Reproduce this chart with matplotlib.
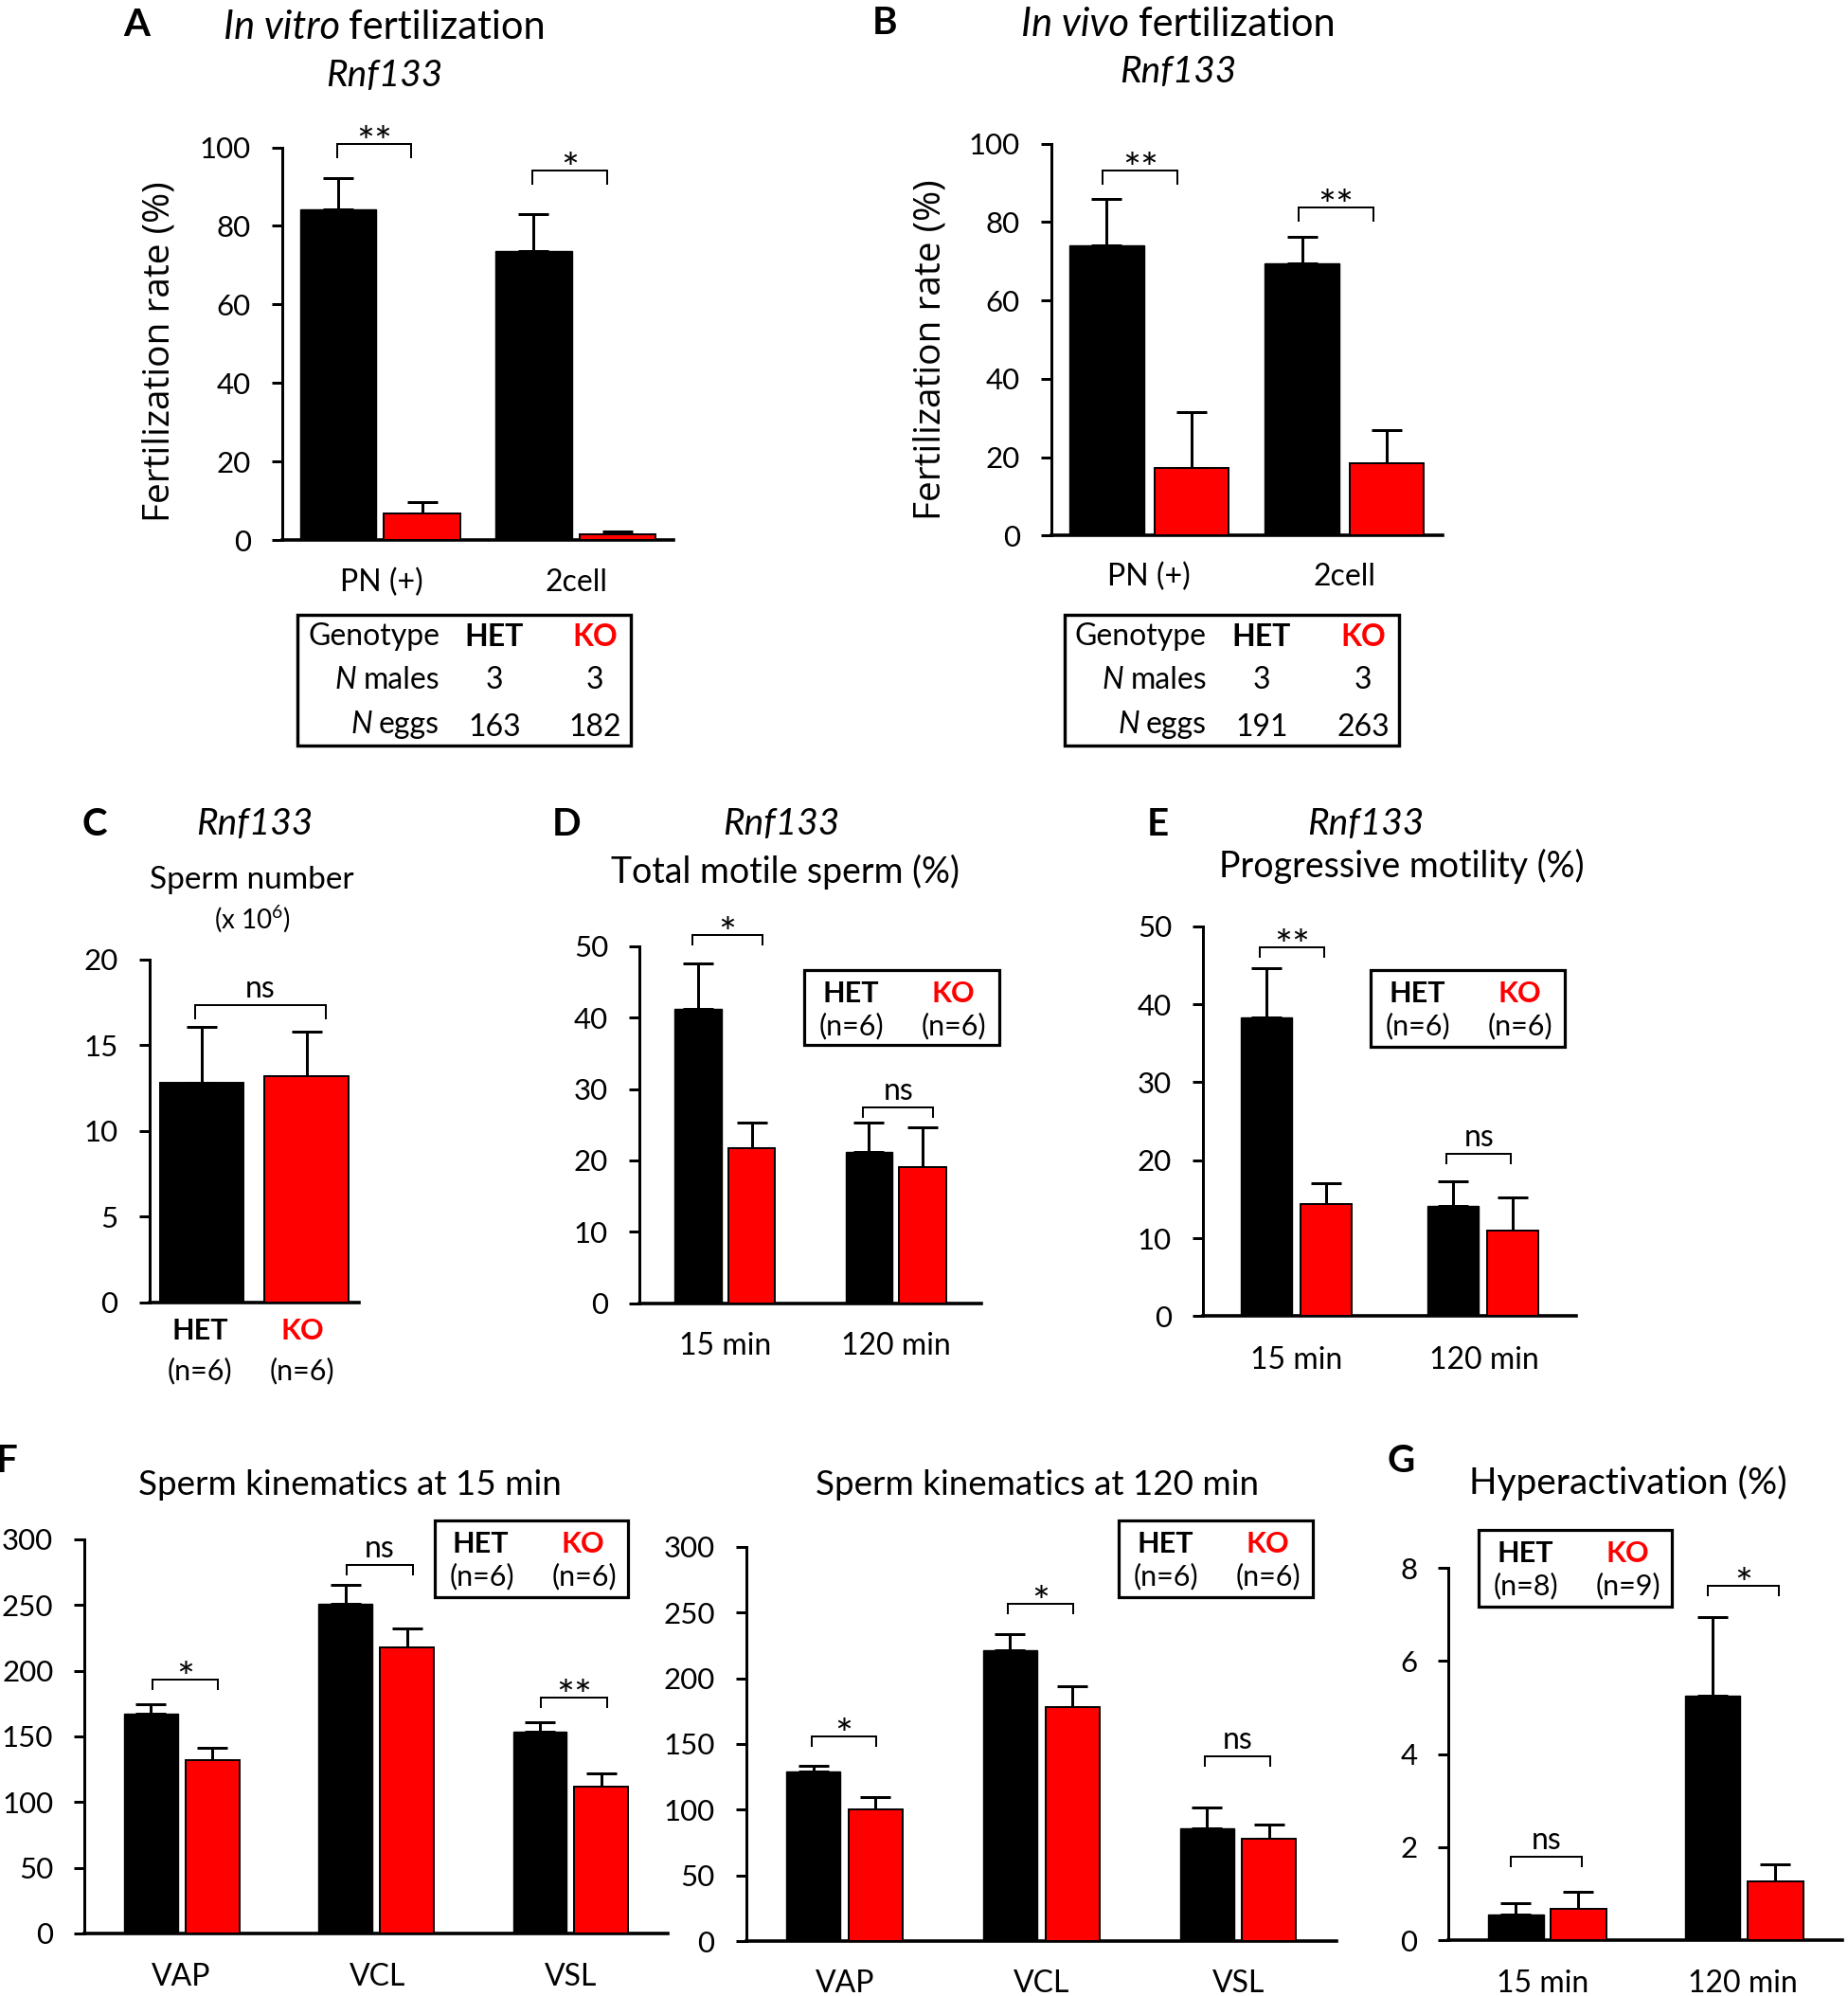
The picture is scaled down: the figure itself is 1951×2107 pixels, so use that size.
import numpy as np
import matplotlib
matplotlib.use("Agg")
import matplotlib.pyplot as plt
from matplotlib.patches import Rectangle

# ------------------------------------------------------------------ data
A_groups = ["PN (+)", "2cell"]
A_het = [84.2, 73.5]
A_het_err = [7.9, 9.6]
A_ko = [6.8, 1.5]
A_ko_err = [2.9, 0.7]
A_sig = ["**", "*"]
A_sig_y = [100.9, 94.0]
A_n_males = ["3", "3"]
A_n_eggs = ["163", "182"]

B_groups = ["PN (+)", "2cell"]
B_het = [74.1, 69.4]
B_het_err = [11.7, 6.9]
B_ko = [17.3, 18.5]
B_ko_err = [14.1, 8.4]
B_sig = ["**", "**"]
B_sig_y = [93.2, 83.8]
B_n_males = ["3", "3"]
B_n_eggs = ["191", "263"]

C_groups = ["HET", "KO"]
C_n = ["(n=6)", "(n=6)"]
C_vals = [12.8, 13.2]
C_err = [3.27, 2.61]
C_sig = "ns"
C_sig_y = 17.33

D_groups = ["15 min", "120 min"]
D_het = [41.2, 21.2]
D_het_err = [6.45, 4.1]
D_ko = [21.7, 19.0]
D_ko_err = [3.55, 5.6]
D_sig = ["*", "ns"]
D_sig_y = [51.6, 27.4]

E_groups = ["15 min", "120 min"]
E_het = [38.3, 14.1]
E_het_err = [6.3, 3.2]
E_ko = [14.4, 11.0]
E_ko_err = [2.7, 4.2]
E_sig = ["**", "ns"]
E_sig_y = [47.3, 20.8]

F_groups = ["VAP", "VCL", "VSL"]
F15_het = [167.2, 250.6, 153.3]
F15_het_err = [7.5, 14.5, 7.3]
F15_ko = [131.7, 217.7, 111.5]
F15_ko_err = [9.5, 14.2, 10.1]
F15_sig = ["*", "ns", "**"]
F15_sig_y = [193.2, 280.6, 179.6]

F120_het = [129.4, 221.6, 85.9]
F120_het_err = [4.3, 12.1, 15.5]
F120_ko = [100.3, 177.8, 77.8]
F120_ko_err = [9.5, 15.9, 11.0]
F120_sig = ["*", "*", "ns"]
F120_sig_y = [155.9, 256.5, 140.6]

G_groups = ["15 min", "120 min"]
G_het = [0.55, 5.25]
G_het_err = [0.25, 1.70]
G_ko = [0.67, 1.26]
G_ko_err = [0.36, 0.37]
G_sig = ["ns", "*"]
G_sig_y = [1.79, 7.62]

# ------------------------------------------------------------------ setup
W, H = 1951, 2107
DPI = 100
PT = 72.0 / DPI
RED = "#FF0000"
FONT = "Lato"
plt.rcParams["font.family"] = [FONT, "DejaVu Sans"]
plt.rcParams["mathtext.fontset"] = "custom"
plt.rcParams["mathtext.rm"] = FONT
plt.rcParams["mathtext.it"] = FONT + ":italic"
plt.rcParams["mathtext.bf"] = FONT + ":bold"

fig = plt.figure(figsize=(W / DPI, H / DPI), dpi=DPI, facecolor="white")
R = fig.canvas.get_renderer()


def fx(x):
    return x / W


def fy(y):
    return 1 - y / H


def txt(x, y, s, size, weight="normal", style="normal", color="black",
        ha="center", va="center", rotation=0, family=None):
    kw = {}
    if family:
        kw["family"] = family
    return fig.text(fx(x), fy(y), s, fontsize=size, fontweight=weight,
                    fontstyle=style, color=color, ha=ha, va=va,
                    rotation=rotation, **kw)


def mixed(x, y, parts, size, ha="center", gap=0.22):
    ts = [txt(0, y, s, size, weight=w, style=st, color=c, ha="left")
          for s, st, w, c in parts]
    ws = [t.get_window_extent(R).width for t in ts]
    g = gap * size / PT
    tot = sum(ws) + g * (len(ts) - 1)
    start = {"center": x - tot / 2, "right": x - tot, "left": x}[ha]
    for t, w in zip(ts, ws):
        t.set_x(fx(start))
        start += w + g


def make_ax(x0, x1, ytop, ybot, n, ymax, step):
    ax = fig.add_axes([x0 / W, 1 - ybot / H, (x1 - x0) / W, (ybot - ytop) / H])
    ax.patch.set_alpha(0)
    ax.set_xlim(-0.5, n - 0.5)
    ax.set_ylim(0, ymax)
    ticks = np.arange(0, ymax + step * 0.01, step)
    ax.set_yticks(ticks)
    ax.set_yticklabels([f"{t:g}" for t in ticks])
    ax.set_xticks([])
    for s in ("top", "right"):
        ax.spines[s].set_visible(False)
    ax.spines["left"].set_linewidth(3.0 * PT)
    ax.spines["bottom"].set_linewidth(3.6 * PT)
    ax.tick_params(axis="y", direction="out", length=11 * PT, width=3.0 * PT,
                   pad=22 * PT, labelsize=22.5)
    return ax


def grouped(ax, het, het_err, ko, ko_err, width, off):
    x = np.arange(len(het))
    ax.bar(x - off, het, width, color="black", edgecolor="black", lw=1.0, zorder=3)
    ax.bar(x + off, ko, width, color=RED, edgecolor="black", lw=1.4, zorder=3)
    for xs, v, e in ((x - off, het, het_err), (x + off, ko, ko_err)):
        ax.errorbar(xs, v, yerr=[np.zeros(len(v)), e], fmt="none",
                    ecolor="black", elinewidth=3.0 * PT, capsize=16 * PT,
                    capthick=3.0 * PT, zorder=2, clip_on=False)


def bracket(ax, x0, x1, y, label, leg_px, star_size=32, ns_size=23):
    y0, y1 = ax.get_ylim()
    ppu = ax.get_window_extent(R).height / (y1 - y0)
    leg = leg_px / ppu
    ax.plot([x0, x0, x1, x1], [y - leg, y, y, y - leg], color="black",
            lw=2.0 * PT, clip_on=False, zorder=4, solid_joinstyle="miter")
    if label == "ns":
        ax.annotate(label, ((x0 + x1) / 2, y), xytext=(0, 8 * PT),
                    textcoords="offset points", ha="center", va="baseline",
                    fontsize=ns_size, annotation_clip=False)
    else:
        ax.annotate(label, ((x0 + x1) / 2, y), xytext=(0, -13 * PT),
                    textcoords="offset points", ha="center", va="baseline",
                    fontsize=star_size, annotation_clip=False)


def group_brackets(ax, sigs, sig_y, lo, hi, leg_px):
    for i, (s, y) in enumerate(zip(sigs, sig_y)):
        bracket(ax, i + lo, i + hi, y, s, leg_px)


def box(x0, y0, x1, y1, lw=3.2):
    fig.add_artist(Rectangle((fx(x0), fy(y1)), (x1 - x0) / W, (y1 - y0) / H,
                             transform=fig.transFigure, fill=False,
                             ec="black", lw=lw * PT))


def legend_box(x0, y0, x1, y1, n_het, n_ko, size=22):
    box(x0, y0, x1, y1)
    txt(x0 + 49, y0 + 25, "HET", size, weight="bold")
    txt(x0 + 157, y0 + 25, "KO", size, weight="bold", color=RED)
    txt(x0 + 50, y0 + 59, n_het, size)
    txt(x0 + 158, y0 + 59, n_ko, size)


def table(x0, y0, x1, y1, lab_right, c_het, c_ko, males, eggs, size=23):
    box(x0, y0, x1, y1, lw=3.4)
    rows = [y0 + 23, y0 + 69, y0 + 116]
    txt(lab_right, rows[0], "Genotype", size, ha="right")
    txt(c_het, rows[0], "HET", size, weight="bold")
    txt(c_ko, rows[0], "KO", size, weight="bold", color=RED)
    mixed(lab_right, rows[1], [("N", "italic", "normal", "black"),
                               ("males", "normal", "normal", "black")], size, ha="right")
    mixed(lab_right, rows[2], [("N", "italic", "normal", "black"),
                               ("eggs", "normal", "normal", "black")], size, ha="right")
    txt(c_het, rows[1], males[0], size)
    txt(c_ko, rows[1], males[1], size)
    txt(c_het, rows[2] + 3, eggs[0], size)
    txt(c_ko, rows[2] + 3, eggs[1], size)


YLAB_FONT = "Open Sans"
LETTER = 29
CAT = 23

# ------------------------------------------------------------------ panel A
axA = make_ax(298, 711, 155.6, 570, 2, 100, 20)
grouped(axA, A_het, A_het_err, A_ko, A_ko_err, 0.39, 0.215)
group_brackets(axA, A_sig, A_sig_y, -0.22, 0.16, 14)
txt(144, 26, "A", LETTER, weight="bold")
mixed(406, 29, [("In vitro", "italic", "normal", "black"),
                ("fertilization", "normal", "normal", "black")], 30)
txt(406, 80, "Rnf133", 28, style="italic")
txt(169, 371, "Fertilization rate (%)", 28, rotation=90, family=YLAB_FONT)
for i, g in enumerate(A_groups):
    txt([403, 608][i], 615, g, CAT)
table(314, 649, 666, 787, 464, 522, 628, A_n_males, A_n_eggs)

# ------------------------------------------------------------------ panel B
axB = make_ax(1110, 1522.6, 151.5, 565.3, 2, 100, 20)
grouped(axB, B_het, B_het_err, B_ko, B_ko_err, 0.38, 0.217)
group_brackets(axB, B_sig, B_sig_y, -0.236, 0.146, 14)
txt(934, 24, "B", LETTER, weight="bold")
mixed(1244, 26, [("In vivo", "italic", "normal", "black"),
                 ("fertilization", "normal", "normal", "black")], 30)
txt(1244, 76, "Rnf133", 28, style="italic")
txt(982, 369, "Fertilization rate (%)", 28, rotation=90, family=YLAB_FONT)
for i, g in enumerate(B_groups):
    txt([1213, 1419.5][i], 609, g, CAT)
table(1124, 649, 1477, 787, 1274, 1332, 1439, B_n_males, B_n_eggs)

# ------------------------------------------------------------------ panel C
axC = make_ax(157.5, 379, 1012.8, 1374.7, 2, 20, 5)
xc = np.arange(len(C_vals))
axC.bar(xc, C_vals, 0.8, color=["black", RED], edgecolor="black", lw=1.4, zorder=3)
axC.errorbar(xc, C_vals, yerr=[np.zeros(len(C_vals)), C_err], fmt="none",
             ecolor="black", elinewidth=3.0 * PT, capsize=16 * PT,
             capthick=3.0 * PT, zorder=2)
bracket(axC, -0.063, 1.18, C_sig_y, C_sig, 14)
txt(100, 870, "C", LETTER, weight="bold")
txt(269, 870, "Rnf133", 28, style="italic")
txt(266, 929, "Sperm number", 24)
txt(266, 970, r"(x 10$^{6}$)", 20)
for i, g in enumerate(C_groups):
    xpos = [211, 319][i]
    txt(xpos, 1405, g, 22, weight="bold", color=["black", RED][i])
    txt(xpos, 1447, C_n[i], 22)

# ------------------------------------------------------------------ panel D
axD = make_ax(675, 1036, 998.9, 1375.6, 2, 50, 10)
grouped(axD, D_het, D_het_err, D_ko, D_ko_err, 0.276, 0.157)
group_brackets(axD, D_sig, D_sig_y, -0.19, 0.22, 10)
txt(598, 871, "D", LETTER, weight="bold")
txt(825, 870, "Rnf133", 28, style="italic")
txt(829, 920, "Total motile sperm (%)", 27)
legend_box(849, 1024, 1055, 1103, "(n=6)", "(n=6)")
for i, g in enumerate(D_groups):
    txt([766, 946][i], 1421, g, CAT)

# ------------------------------------------------------------------ panel E
axE = make_ax(1270, 1664, 977.8, 1389.4, 2, 50, 10)
grouped(axE, E_het, E_het_err, E_ko, E_ko_err, 0.273, 0.158)
group_brackets(axE, E_sig, E_sig_y, -0.194, 0.15, 10)
txt(1222, 870, "E", LETTER, weight="bold")
txt(1442, 870, "Rnf133", 28, style="italic")
txt(1480, 914, "Progressive motility (%)", 27)
legend_box(1447, 1024, 1652, 1105, "(n=6)", "(n=6)")
for i, g in enumerate(E_groups):
    txt([1368.6, 1566.6][i], 1436, g, CAT)

# ------------------------------------------------------------------ panel F (15 min)
axF1 = make_ax(89.3, 705, 1625, 2040.8, 3, 300, 50)
grouped(axF1, F15_het, F15_het_err, F15_ko, F15_ko_err, 0.277, 0.158)
group_brackets(axF1, F15_sig, F15_sig_y, -0.153, 0.187, 10)
txt(19, 1542, "F", LETTER, weight="bold", ha="right")
txt(369, 1568, "Sperm kinematics at 15 min", 26.5)
legend_box(458.5, 1605, 663, 1686, "(n=6)", "(n=6)")
for i, g in enumerate(F_groups):
    txt([191, 398.6, 602.7][i], 2087, g, CAT)

# ------------------------------------------------------------------ panel F (120 min)
axF2 = make_ax(787.6, 1411, 1632.8, 2049.2, 3, 300, 50)
grouped(axF2, F120_het, F120_het_err, F120_ko, F120_ko_err, 0.274, 0.158)
group_brackets(axF2, F120_sig, F120_sig_y, -0.168, 0.162, 10)
txt(1095, 1568, "Sperm kinematics at 120 min", 26.5)
legend_box(1181, 1605, 1386, 1686, "(n=6)", "(n=6)")
for i, g in enumerate(F_groups):
    txt([892, 1100, 1307.5][i], 2094, g, CAT)

# ------------------------------------------------------------------ panel G
axG = make_ax(1529.4, 1945, 1655.2, 2048, 2, 8, 2)
grouped(axG, G_het, G_het_err, G_ko, G_ko_err, 0.283, 0.159)
group_brackets(axG, G_sig, G_sig_y, -0.184, 0.177, 10)
txt(1479, 1542, "G", LETTER, weight="bold")
txt(1718.6, 1565, "Hyperactivation (%)", 28)
legend_box(1561, 1615, 1765, 1696, "(n=8)", "(n=9)")
for i, g in enumerate(G_groups):
    txt([1629, 1840][i], 2094, g, CAT)

fig.savefig("out.png", dpi=DPI, facecolor="white")
